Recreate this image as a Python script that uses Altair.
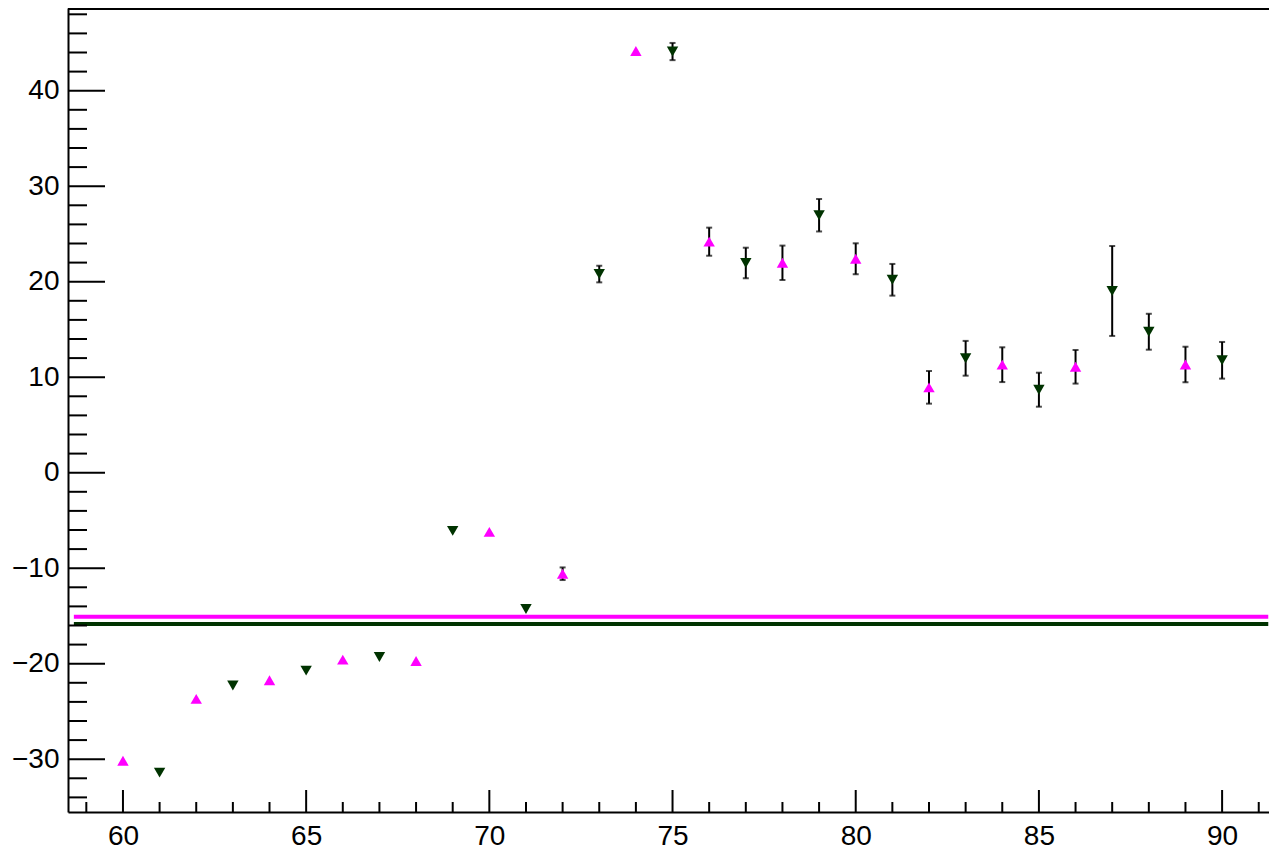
import altair as alt
import pandas as pd

# ---- data ----
x_vals = list(range(60, 91))
y_vals = [-30.16, -31.41, -23.68, -22.28, -21.74, -20.73, -19.58, -19.30, -19.72, -6.09,
          -6.20, -14.27, -10.58, 20.80, 44.16, 44.10, 24.19, 21.96, 21.98, 26.96,
          22.40, 20.20, 8.94, 11.98, 11.31, 8.69, 11.09, 19.03, 14.76, 11.33, 11.77]
y_errs = [0, 0, 0, 0, 0, 0, 0, 0, 0, 0,
          0, 0, 0.66, 0.87, 0, 0.90, 1.47, 1.60, 1.80, 1.70,
          1.62, 1.66, 1.71, 1.82, 1.82, 1.78, 1.76, 4.71, 1.88, 1.86, 1.92]
series = ["up", "down", "up", "down", "up", "down", "up", "down", "up", "down",
          "up", "down", "up", "down", "up", "down", "up", "down", "up", "down",
          "up", "down", "up", "down", "up", "down", "up", "down", "down", "up", "down"]

line_series = ["up", "down"]
line_levels = [-15.08, -15.84]
line_start = [58.66, 58.66]
line_end = [91.26, 91.26]

x_major = [60, 65, 70, 75, 80, 85, 90]
x_minor = [v for v in range(59, 92) if v not in x_major]
y_major = [-30, -20, -10, 0, 10, 20, 30, 40]
y_minor = [v for v in range(-34, 49, 2) if v not in y_major]

series_domain = ["up", "down"]
series_colors = ["#ff00ff", "#003300"]
series_shapes = ["triangle-up", "triangle-down"]

X_DOMAIN = [58.5, 91.28]
Y_DOMAIN = [-35.53, 48.66]
W, H = 1201, 804
FONT = "Liberation Sans"

df = pd.DataFrame({"x": x_vals, "y": y_vals, "err": y_errs, "s": series})
df["lo"] = df["y"] - df["err"]
df["hi"] = df["y"] + df["err"]
lines_df = pd.DataFrame({"s": line_series, "y": line_levels, "x0": line_start, "x1": line_end})

xs = alt.Scale(domain=X_DOMAIN, nice=False, zero=False)
ys = alt.Scale(domain=Y_DOMAIN, nice=False, zero=False)
color_scale = alt.Scale(domain=series_domain, range=series_colors)
shape_scale = alt.Scale(domain=series_domain, range=series_shapes)

x_axis = alt.Axis(values=x_major, ticks=False, domain=True, domainColor="black", domainWidth=2,
                  grid=False, title=None,
                  labelFontSize=28, labelFont=FONT, labelColor="black", labelPadding=10,
                  labelFlush=False)
y_axis = alt.Axis(values=y_major, ticks=False, domain=True, domainColor="black", domainWidth=2,
                  grid=False, title=None,
                  labelFontSize=28, labelFont=FONT, labelColor="black", labelPadding=9,
                  labelFlush=False)

base = alt.Chart(df)

# axes carriers (labels + domain lines)
axes_layer = base.mark_point(opacity=0).encode(
    x=alt.X("x:Q", scale=xs, axis=x_axis),
    y=alt.Y("y:Q", scale=ys, axis=y_axis),
)

# top frame line
top_line = alt.Chart(pd.DataFrame({"v": [Y_DOMAIN[1]]})).mark_rule(color="black", strokeWidth=2).encode(
    y=alt.value(1), x=alt.value(0), x2=alt.value(W))

# inside ticks
ymaj = alt.Chart(pd.DataFrame({"v": y_major})).mark_rule(color="black", strokeWidth=2).encode(
    y=alt.Y("v:Q", scale=ys), x=alt.value(0), x2=alt.value(37))
ymin = alt.Chart(pd.DataFrame({"v": y_minor})).mark_rule(color="black", strokeWidth=2).encode(
    y=alt.Y("v:Q", scale=ys), x=alt.value(0), x2=alt.value(19))
xmaj = alt.Chart(pd.DataFrame({"v": x_major})).mark_rule(color="black", strokeWidth=2).encode(
    x=alt.X("v:Q", scale=xs), y=alt.value(H), y2=alt.value(H - 22))
xmin = alt.Chart(pd.DataFrame({"v": x_minor})).mark_rule(color="black", strokeWidth=2).encode(
    x=alt.X("v:Q", scale=xs), y=alt.value(H), y2=alt.value(H - 10))

# horizontal reference lines
hlines = alt.Chart(lines_df).mark_rule(strokeWidth=4).encode(
    x=alt.X("x0:Q", scale=xs), x2="x1:Q",
    y=alt.Y("y:Q", scale=ys),
    color=alt.Color("s:N", scale=color_scale, legend=None),
)

errs = base.transform_filter("datum.err > 0")
err_bars = errs.mark_rule(color="black", strokeWidth=2).encode(
    x=alt.X("x:Q", scale=xs), y=alt.Y("lo:Q", scale=ys), y2="hi:Q")
cap_lo = errs.mark_tick(color="black", thickness=2, size=6, orient="horizontal").encode(
    x=alt.X("x:Q", scale=xs), y=alt.Y("lo:Q", scale=ys))
cap_hi = errs.mark_tick(color="black", thickness=2, size=6, orient="horizontal").encode(
    x=alt.X("x:Q", scale=xs), y=alt.Y("hi:Q", scale=ys))

points = base.mark_point(filled=True, size=130, opacity=1).encode(
    x=alt.X("x:Q", scale=xs),
    y=alt.Y("y:Q", scale=ys),
    color=alt.Color("s:N", scale=color_scale, legend=None),
    shape=alt.Shape("s:N", scale=shape_scale, legend=None),
)

chart = alt.layer(
    axes_layer, top_line, hlines, ymaj, ymin, xmaj, xmin, err_bars, cap_lo, cap_hi, points
).properties(
    width=W, height=H,
    autosize=alt.AutoSizeParams(type="none"),
    padding={"left": 60, "top": 0, "right": 0, "bottom": 39},
    background="white",
).configure_view(
    stroke=None
)

chart.save("out.html", embed_options={"renderer": "svg", "actions": False})
